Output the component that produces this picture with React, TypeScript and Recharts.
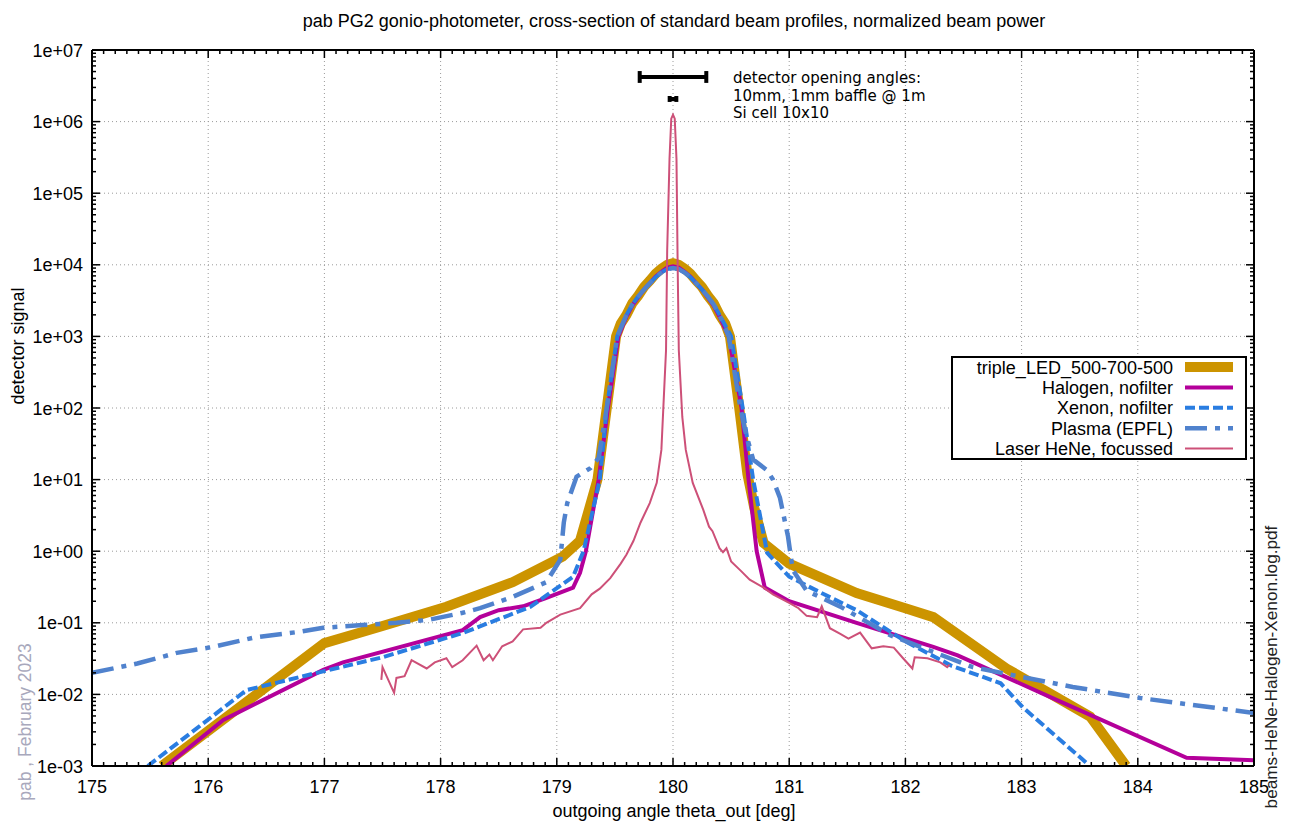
import React from 'react';
import { ComposedChart, Line, XAxis, YAxis, ReferenceLine, Legend } from 'recharts';

// ---------- data ----------
const seriesNames = [
  'triple_LED_500-700-500',
  'Halogen, nofilter',
  'Xenon, nofilter',
  'Plasma (EPFL)',
  'Laser HeNe, focussed',
];

const ledData: [number, number][] = [
  [175.6, 0.001], [177.0, 0.052], [177.5, 0.09], [178.05, 0.168], [178.62, 0.37], [179.05, 0.84],
  [179.2, 1.4], [179.35, 10], [179.43, 100], [179.51, 1000], [179.55, 1500], [179.6, 2000],
  [179.65, 2900], [179.7, 3700], [179.75, 4900], [179.8, 6000], [179.85, 7500], [179.9, 8800],
  [179.95, 10000], [180.0, 10500], [180.05, 10000], [180.1, 8800], [180.15, 7500], [180.2, 6000],
  [180.25, 4900], [180.3, 3700], [180.35, 2900], [180.4, 2000], [180.45, 1500], [180.49, 1000],
  [180.57, 100], [180.64, 12], [180.7, 4], [180.78, 1.3],
  [181.0, 0.67], [181.58, 0.26], [182.0, 0.16], [182.24, 0.12], [182.87, 0.023], [183.59, 0.0049],
  [183.9, 0.001],
];

const halogenData: [number, number][] = [
  [175.64, 0.001], [176.13, 0.0044], [176.99, 0.022], [177.16, 0.028], [178.19, 0.079],
  [178.34, 0.12], [178.5, 0.15], [178.71, 0.17], [178.9, 0.22], [179.14, 0.31], [179.2, 0.5],
  [179.25, 1], [179.36, 10], [179.44, 100], [179.53, 1000], [179.6, 1900], [179.65, 2700],
  [179.7, 3500], [179.75, 4500], [179.8, 5500], [179.85, 6800], [179.9, 8000], [179.95, 9100],
  [180.0, 9500], [180.05, 9100], [180.1, 8000], [180.15, 6800], [180.2, 5500], [180.25, 4500],
  [180.3, 3500], [180.35, 2700], [180.4, 1900], [180.48, 1000], [180.59, 100], [180.65, 10],
  [180.72, 1], [180.79, 0.31],
  [181.0, 0.2], [181.58, 0.1], [182.24, 0.046], [182.45, 0.035], [183.3, 0.0084],
  [184.42, 0.0013], [185.0, 0.0012],
];

const xenonData: [number, number][] = [
  [175.48, 0.001], [176.33, 0.0115], [176.99, 0.021], [177.5, 0.033], [178.19, 0.072],
  [178.77, 0.166], [179.14, 0.44], [179.23, 1], [179.37, 10], [179.43, 100], [179.52, 1000],
  [179.6, 2000], [179.65, 2800], [179.7, 3600], [179.75, 4500], [179.8, 5500], [179.85, 6700],
  [179.9, 7800], [179.95, 8700], [180.0, 9000], [180.05, 8700], [180.1, 7800], [180.15, 6700],
  [180.2, 5500], [180.25, 4500], [180.3, 3600], [180.35, 2800], [180.4, 2000], [180.5, 1000],
  [180.6, 100], [180.69, 10],
  [180.81, 0.95], [181.0, 0.44], [181.3, 0.25], [181.58, 0.15], [182.0, 0.055], [182.4, 0.025],
  [182.82, 0.0143], [183.01, 0.0066], [183.56, 0.0011],
];

const plasmaData: [number, number][] = [
  [175.0, 0.02], [175.39, 0.027], [175.73, 0.038], [176.04, 0.046], [176.39, 0.062],
  [176.76, 0.074], [176.99, 0.085], [177.33, 0.093], [177.62, 0.1], [177.9, 0.11],
  [178.19, 0.138], [178.34, 0.16], [178.62, 0.23], [178.91, 0.37], [179.03, 0.76],
  [179.06, 2.5], [179.09, 4.7], [179.17, 11], [179.29, 14.5], [179.36, 20], [179.43, 100],
  [179.52, 1000], [179.6, 2000], [179.65, 2800], [179.7, 3600], [179.75, 4500], [179.8, 5500],
  [179.85, 6700], [179.9, 7800], [179.95, 8700], [180.0, 9000], [180.05, 8700], [180.1, 7800],
  [180.15, 6700], [180.2, 5500], [180.25, 4500], [180.3, 3600], [180.35, 2800], [180.4, 2000],
  [180.48, 1000], [180.58, 100],
  [180.62, 49], [180.69, 19], [180.81, 13.5], [180.86, 10], [180.92, 5.6], [180.99, 1.6],
  [181.03, 0.55], [181.15, 0.28], [181.44, 0.168], [181.87, 0.067], [182.58, 0.024],
  [183.44, 0.0127], [184.02, 0.0089], [185.0, 0.0055],
];

const laserData: [number, number][] = [
  [177.49, 0.016], [177.5, 0.024], [177.6, 0.0105], [177.62, 0.017], [177.69, 0.018],
  [177.75, 0.03], [177.88, 0.023], [177.95, 0.028], [178.05, 0.032], [178.1, 0.024],
  [178.19, 0.03], [178.31, 0.048], [178.37, 0.03], [178.42, 0.036], [178.45, 0.03],
  [178.53, 0.047], [178.62, 0.055], [178.71, 0.081], [178.86, 0.085], [178.91, 0.1],
  [179.03, 0.13], [179.2, 0.16], [179.3, 0.25], [179.37, 0.3], [179.46, 0.42], [179.55, 0.67],
  [179.6, 0.9], [179.66, 1.4], [179.72, 2.5], [179.8, 4.7], [179.86, 9], [179.9, 26],
  [179.92, 130], [179.94, 640], [179.95, 16000], [179.97, 300000], [179.985, 1100000],
  [180.0, 1250000], [180.015, 1100000], [180.03, 300000], [180.04, 10000], [180.05, 640],
  [180.08, 75], [180.11, 26], [180.17, 9], [180.26, 3.8], [180.31, 2.2], [180.34, 1.9],
  [180.4, 1.1], [180.43, 0.97], [180.46, 1.1], [180.5, 0.72], [180.58, 0.54], [180.66, 0.4],
  [180.78, 0.31], [180.86, 0.25], [181.0, 0.19], [181.08, 0.16], [181.15, 0.125],
  [181.24, 0.12], [181.28, 0.17], [181.35, 0.084], [181.44, 0.07], [181.51, 0.06],
  [181.61, 0.073], [181.71, 0.044], [181.81, 0.047], [181.9, 0.045], [181.98, 0.032],
  [182.06, 0.023], [182.08, 0.033], [182.19, 0.032], [182.3, 0.028], [182.36, 0.024],
  [182.38, 0.026],
];

// detector opening angles (deg half-widths) and their marker heights
const openingHalfWidths = [0.2865, 0.0286];
const openingLevels = [4.2e6, 2.07e6];
const openingCapFactors = [1.21, 1.1];
const annotationLines = ['detector opening angles:', '10mm, 1mm baffle @ 1m', 'Si cell 10x10'];

const xMajorTicks = [175, 176, 177, 178, 179, 180, 181, 182, 183, 184, 185];
const yMajorTicks = [1e-3, 1e-2, 1e-1, 1, 10, 100, 1e3, 1e4, 1e5, 1e6, 1e7];
const yTickLabels = ['1e-03', '1e-02', '1e-01', '1e+00', '1e+01', '1e+02', '1e+03', '1e+04', '1e+05', '1e+06', '1e+07'];
const yMinorFactors = [2, 3, 4, 5, 6, 7, 8, 9];

const titleText = 'pab PG2 gonio-photometer, cross-section of standard beam profiles, normalized beam power';
const xLabelText = 'outgoing angle theta_out [deg]';
const yLabelText = 'detector signal';
const authorText = 'pab , February 2023';
const fileText = 'beams-HeNe-Halogen-Xenon.log.pdf';

// ---------- styles ----------
const seriesStyles = [
  { color: '#cc9400', width: 10, dash: undefined as string | undefined },
  { color: '#b4009a', width: 4, dash: undefined },
  { color: '#2a7de1', width: 4, dash: '10 4' },
  { color: '#5082cd', width: 4.5, dash: '22 8 5 8' },
  { color: '#cd5078', width: 2, dash: undefined },
];
const allData = [ledData, halogenData, xenonData, plasmaData, laserData];

const W = 1294;
const H = 823;
const FONT = "'Liberation Sans', Arial, sans-serif";
const FS = 18;

const xAllTicks: number[] = [];
for (let i = 0; i <= 100; i++) xAllTicks.push(Math.round((175 + i * 0.1) * 10) / 10);
const yAllTicks: number[] = [];
yMajorTicks.forEach((m, i) => {
  yAllTicks.push(m);
  if (i < yMajorTicks.length - 1) yMinorFactors.forEach((f) => yAllTicks.push(+(m * f).toPrecision(3)));
});

const isMajorX = (v: number) => Math.abs(v - Math.round(v)) < 1e-6;
const isMajorY = (v: number) => {
  const l = Math.log10(v);
  return Math.abs(l - Math.round(l)) < 1e-6;
};

const BottomTick = (p: any) => {
  const { x, y, payload } = p;
  const v = payload.value;
  const maj = isMajorX(v);
  return (
    <g>
      <line x1={x} y1={y} x2={x} y2={y - (maj ? 8 : 4)} stroke="#000" strokeWidth={1.5} />
      {maj && (
        <text x={x} y={y + 27} textAnchor="middle" fontSize={FS} fontFamily={FONT} fill="#000">
          {v}
        </text>
      )}
    </g>
  );
};
const TopTick = (p: any) => {
  const { x, y, payload } = p;
  const maj = isMajorX(payload.value);
  return <line x1={x} y1={y} x2={x} y2={y + (maj ? 8 : 4)} stroke="#000" strokeWidth={1.5} />;
};
const LeftTick = (p: any) => {
  const { x, y, payload } = p;
  const v = payload.value;
  const maj = isMajorY(v);
  const idx = yMajorTicks.findIndex((m) => Math.abs(Math.log10(m) - Math.log10(v)) < 1e-6);
  return (
    <g>
      <line x1={x} y1={y} x2={x + (maj ? 8 : 4)} y2={y} stroke="#000" strokeWidth={1.5} />
      {maj && idx >= 0 && (
        <text x={x - 9} y={y + 6.5} textAnchor="end" fontSize={FS} fontFamily={FONT} fill="#000">
          {yTickLabels[idx]}
        </text>
      )}
    </g>
  );
};
const RightTick = (p: any) => {
  const { x, y, payload } = p;
  const maj = isMajorY(payload.value);
  return <line x1={x} y1={y} x2={x - (maj ? 8 : 4)} y2={y} stroke="#000" strokeWidth={1.5} />;
};

const LegendBox = () => (
  <svg width={296} height={104} style={{ display: 'block' }}>
    <rect x={1} y={1} width={294} height={102} fill="#fff" stroke="#000" strokeWidth={2} />
    {seriesNames.map((n, i) => {
      const cy = 11 + i * 20.4;
      const s = seriesStyles[i];
      return (
        <g key={n}>
          <text x={222} y={cy + 6.5} textAnchor="end" fontSize={FS} fontFamily={FONT} fill="#000">
            {n}
          </text>
          <line x1={234} y1={cy} x2={282} y2={cy} stroke={s.color} strokeWidth={s.width} strokeDasharray={s.dash} />
        </g>
      );
    })}
  </svg>
);

export default function App() {
  const series = allData.map((d) => d.map(([x, y]) => ({ x, y })));
  return (
    <div style={{ position: 'absolute', left: 0, top: 0, width: W, height: H, background: '#fff' }}>
      <ComposedChart width={W} height={H} margin={{ top: 49, right: 39, bottom: 56, left: 91 }}>
        <XAxis
          xAxisId="b"
          type="number"
          dataKey="x"
          domain={[175, 185]}
          allowDataOverflow
          ticks={xAllTicks}
          interval={0}
          tick={BottomTick}
          tickLine={false}
          tickSize={0}
          tickMargin={0}
          height={1}
          axisLine={{ stroke: '#000', strokeWidth: 2 }}
        />
        <XAxis
          xAxisId="t"
          orientation="top"
          type="number"
          dataKey="x"
          domain={[175, 185]}
          allowDataOverflow
          ticks={xAllTicks}
          interval={0}
          tick={TopTick}
          tickLine={false}
          tickSize={0}
          tickMargin={0}
          height={1}
          axisLine={{ stroke: '#000', strokeWidth: 2 }}
        />
        <YAxis
          yAxisId="l"
          type="number"
          scale="log"
          domain={[1e-3, 1e7]}
          allowDataOverflow
          ticks={yAllTicks}
          interval={0}
          tick={LeftTick}
          tickLine={false}
          tickSize={0}
          tickMargin={0}
          width={1}
          axisLine={{ stroke: '#000', strokeWidth: 2 }}
        />
        <YAxis
          yAxisId="r"
          orientation="right"
          type="number"
          scale="log"
          domain={[1e-3, 1e7]}
          allowDataOverflow
          ticks={yAllTicks}
          interval={0}
          tick={RightTick}
          tickLine={false}
          tickSize={0}
          tickMargin={0}
          width={1}
          axisLine={{ stroke: '#000', strokeWidth: 2 }}
        />
        {xMajorTicks.slice(1, -1).map((v) => (
          <ReferenceLine key={'gx' + v} x={v} xAxisId="b" yAxisId="l" stroke="#9a9a9a" strokeDasharray="1 3" strokeWidth={1} />
        ))}
        {yMajorTicks.slice(1, -1).map((v) => (
          <ReferenceLine key={'gy' + v} y={v} xAxisId="b" yAxisId="l" stroke="#9a9a9a" strokeDasharray="1 3" strokeWidth={1} />
        ))}
        {series.map((d, i) => (
          <Line
            key={seriesNames[i]}
            data={d}
            dataKey="y"
            xAxisId="b"
            yAxisId="l"
            name={seriesNames[i]}
            type="linear"
            stroke={seriesStyles[i].color}
            strokeWidth={seriesStyles[i].width}
            strokeDasharray={seriesStyles[i].dash}
            dot={false}
            activeDot={false}
            isAnimationActive={false}
          />
        ))}
        {openingHalfWidths.map((hw, i) => {
          const lv = openingLevels[i];
          const lo = lv / openingCapFactors[i];
          const hi = lv * openingCapFactors[i];
          return (
            <React.Fragment key={'op' + i}>
              <ReferenceLine xAxisId="b" yAxisId="l" ifOverflow="visible" stroke="#000" strokeWidth={4}
                segment={[{ x: 180 - hw, y: lv }, { x: 180 + hw, y: lv }]} />
              <ReferenceLine xAxisId="b" yAxisId="l" ifOverflow="visible" stroke="#000" strokeWidth={4}
                segment={[{ x: 180 - hw, y: lo }, { x: 180 - hw, y: hi }]} />
              <ReferenceLine xAxisId="b" yAxisId="l" ifOverflow="visible" stroke="#000" strokeWidth={4}
                segment={[{ x: 180 + hw, y: lo }, { x: 180 + hw, y: hi }]} />
            </React.Fragment>
          );
        })}
        <Legend
          layout="vertical"
          align="center"
          verticalAlign="middle"
          content={() => <LegendBox />}
          wrapperStyle={{ left: 951, top: 356, width: 296, height: 104 }}
        />
      </ComposedChart>
      <svg width={W} height={H} style={{ position: 'absolute', left: 0, top: 0, pointerEvents: 'none' }}>
        <text x={674} y={27} textAnchor="middle" fontSize={FS} fontFamily={FONT} fill="#000">{titleText}</text>
        <text x={674} y={817} textAnchor="middle" fontSize={FS} fontFamily={FONT} fill="#000">{xLabelText}</text>
        <text x={0} y={0} transform="translate(24,346) rotate(-90)" textAnchor="middle" fontSize={FS} fontFamily={FONT} fill="#000">{yLabelText}</text>
        <text x={0} y={0} transform="translate(31,722) rotate(-90)" textAnchor="middle" fontSize={17.5} fontFamily={FONT} fill="#a8a8bc">{authorText}</text>
        <text x={0} y={0} transform="translate(1277,667) rotate(-90)" textAnchor="middle" fontSize={17.2} fontFamily={FONT} fill="#222">{fileText}</text>
        {annotationLines.map((t, i) => (
          <text key={t} x={733} y={83 + i * 17.5} fontSize={15} fontFamily="'DejaVu Sans', sans-serif" fill="#000">{t}</text>
        ))}
      </svg>
    </div>
  );
}
